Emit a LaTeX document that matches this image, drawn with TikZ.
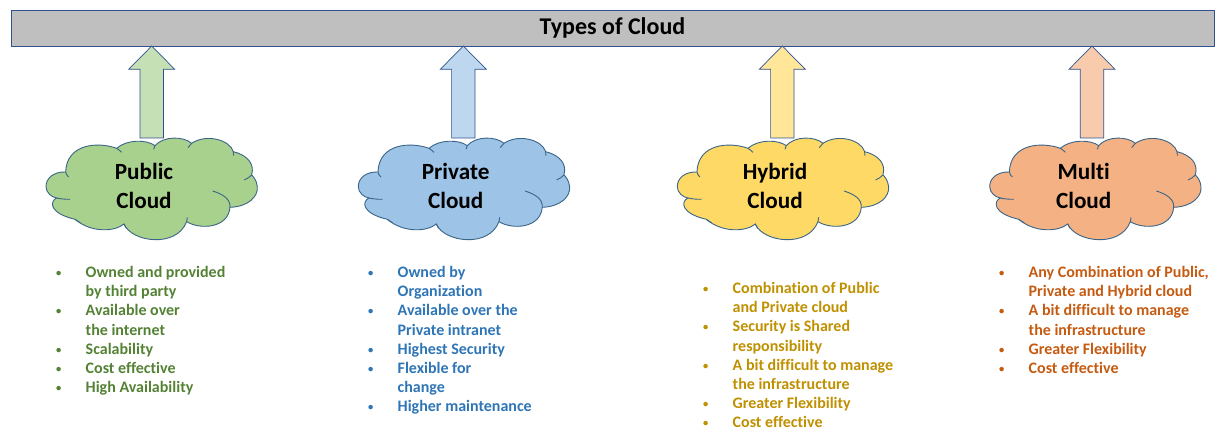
\documentclass[tikz,border=0pt]{standalone}
\usepackage{fontspec}
\setmainfont{Carlito}[RawFeature={-liga}]
\definecolor{edgeblue}{HTML}{2F528F}
\definecolor{cloudedge}{HTML}{3A6488}
\definecolor{bargrey}{HTML}{BFBFBF}
\definecolor{gCloud}{HTML}{A9D18E}\definecolor{gArrow}{HTML}{C5E0B4}\definecolor{gText}{HTML}{548235}
\definecolor{bCloud}{HTML}{9DC3E6}\definecolor{bArrow}{HTML}{BDD7EE}\definecolor{bText}{HTML}{2E75B6}
\definecolor{yCloud}{HTML}{FFD966}\definecolor{yArrow}{HTML}{FFE699}\definecolor{yText}{HTML}{BF9000}
\definecolor{oCloud}{HTML}{F4B183}\definecolor{oArrow}{HTML}{F8CBAD}\definecolor{oText}{HTML}{C55A11}
\newcommand{\bl}[1]{\makebox[27.5pt][l]{\hspace{-2pt}\raisebox{1pt}{\fontsize{10.5}{10.5}\selectfont •}}#1}
\newcommand{\cn}[1]{\hspace*{27.5pt}#1}
\tikzset{
  x=1pt,y=-1pt,
  barbox/.style={draw=edgeblue,fill=bargrey,line width=0.9pt},
  bartext/.style={font=\bfseries\fontsize{24}{28}\selectfont,text=black},
  cloudtext/.style={font=\bfseries\fontsize{23.2}{29}\selectfont,align=center,text=black,inner sep=0pt},
  listtext/.style={font=\bfseries\fontsize{16}{19.2}\selectfont,align=left,anchor=north west,inner sep=0pt},
  blockarrow/.style={draw=edgeblue,line width=0.7pt},
  cloudline/.style={draw=cloudedge,line width=0.9pt},
  pics/blockup/.style={code={
    \draw[blockarrow,fill=#1] (0,0) -- (23,23.3) -- (11.7,23.3) -- (11.7,92) -- (-11.7,92) -- (-11.7,23.3) -- (-23,23.3) -- cycle;
  }},
  pics/cloudy/.style={code={
    \begin{scope}[x=0.3333pt,y=-0.3333pt]
    \path[cloudline,fill=#1] (197,516)
      .. controls (160,515) and (138,535) .. (138,560)
      .. controls (138,578) and (155,592) .. (170,594)
      .. controls (148,605) and (148,640) .. (225,658)
      .. controls (275,700) and (345,695) .. (372,672)
      .. controls (395,727) and (530,745) .. (560,665)
      .. controls (600,690) and (685,685) .. (690,622)
      .. controls (745,620) and (775,590) .. (772,560)
      .. controls (770,540) and (760,530) .. (755,525)
      .. controls (765,490) and (740,465) .. (700,455)
      .. controls (690,420) and (620,400) .. (575,430)
      .. controls (550,408) and (490,408) .. (465,437)
      .. controls (440,418) and (380,418) .. (350,445)
      .. controls (295,425) and (200,430) .. (197,516) -- cycle;
    \path[cloudline] (197,516) .. controls (198,522) and (201,527) .. (206,531);
    \path[cloudline] (170,594) .. controls (182,597) and (196,598) .. (210,598);
    \path[cloudline] (225,658) .. controls (230,662) and (235,665) .. (241,668);
    \path[cloudline] (372,672) .. controls (374,677) and (376,681) .. (379,685);
    \path[cloudline] (560,665) .. controls (561,660) and (562,656) .. (562,652);
    \path[cloudline] (638,573) .. controls (670,583) and (692,598) .. (690,622);
    \path[cloudline] (755,525) .. controls (750,531) and (742,536) .. (733,540);
    \path[cloudline] (700,455) .. controls (701,459) and (701,463) .. (701,467);
    \path[cloudline] (575,430) .. controls (571,434) and (567,438) .. (564,443);
    \path[cloudline] (465,437) .. controls (463,440) and (462,444) .. (461,448);
    \path[cloudline] (350,445) .. controls (355,448) and (360,452) .. (365,457);
    \end{scope}
  }},
}
\begin{document}
\begin{tikzpicture}
\useasboundingbox (0,0) rectangle (1227,438);
\node[barbox,minimum width=1203.7pt,minimum height=36pt,inner sep=0pt,outer sep=0pt] (bar) at (612.8,28) {};
\node[bartext] (title) at (612.5,28) {Types of Cloud};

\pic at (151.7,46) {blockup=gArrow};
\pic at (463.3,46) {blockup=bArrow};
\pic at (782.3,46) {blockup=yArrow};
\pic at (1092,46) {blockup=oArrow};

\pic at (0,0) {cloudy=gCloud};
\pic at (312.3,0) {cloudy=bCloud};
\pic at (631.3,0) {cloudy=yCloud};
\pic at (943.7,0) {cloudy=oCloud};

\node[cloudtext] (public) at (144,186) {Public\\Cloud};
\node[cloudtext] (private) at (455.7,186) {Private\\Cloud};
\node[cloudtext] (hybrid) at (775,186) {Hybrid\\Cloud};
\node[cloudtext] (multi) at (1083.7,186) {Multi\\Cloud};

\node[listtext,text=gText] (l1) at (58,266) {\bl{Owned and provided}\\\cn{by third party}\\\bl{Available over}\\\cn{the internet}\\\bl{Scalability}\\\bl{Cost effective}\\\bl{High Availability}};
\node[listtext,text=bText] (l2) at (370,266) {\bl{Owned by}\\\cn{Organization}\\\bl{Available over the}\\\cn{Private intranet}\\\bl{Highest Security}\\\bl{Flexible for}\\\cn{change}\\\bl{Higher maintenance}};
\node[listtext,text=yText] (l3) at (705,282) {\bl{Combination of Public}\\\cn{and Private cloud}\\\bl{Security is Shared}\\\cn{responsibility}\\\bl{A bit difficult to manage}\\\cn{the infrastructure}\\\bl{Greater Flexibility}\\\bl{Cost effective}};
\node[listtext,text=oText] (l4) at (1001,266) {\bl{Any Combination of Public,}\\\cn{Private and Hybrid cloud}\\\bl{A bit difficult to manage}\\\cn{the infrastructure}\\\bl{Greater Flexibility}\\\bl{Cost effective}};
\end{tikzpicture}
\end{document}
